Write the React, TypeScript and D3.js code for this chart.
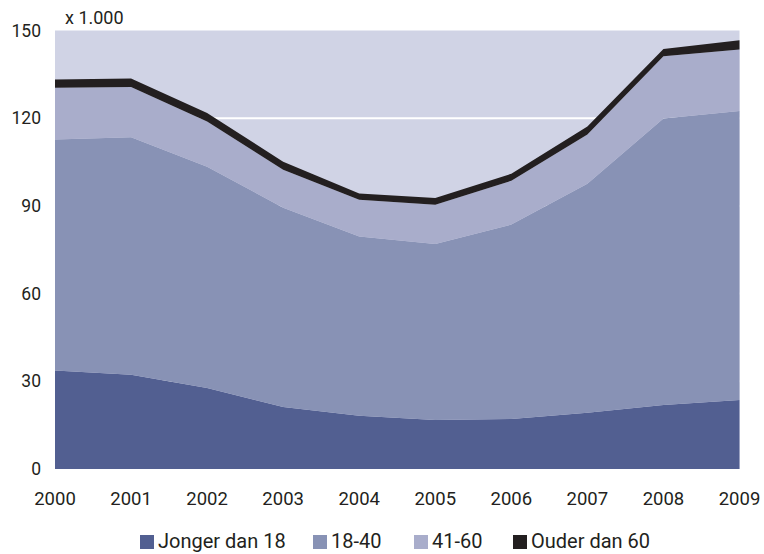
import React from "react";
import * as d3 from "d3";

const years = [2000, 2001, 2002, 2003, 2004, 2005, 2006, 2007, 2008, 2009];
const jonger = [33.7, 32.2, 27.7, 21.2, 18.2, 16.8, 17.1, 19.2, 21.9, 23.6];
const age1840 = [79.0, 81.3, 75.7, 68.2, 61.3, 60.2, 66.5, 78.4, 98.0, 98.9];
const age4160 = [17.7, 17.2, 15.5, 13.0, 12.6, 13.4, 15.0, 16.8, 21.3, 21.0];
const ouder = [2.8, 2.9, 2.9, 2.7, 2.1, 2.3, 2.4, 2.8, 2.5, 3.2];
const seriesNames = ["Jonger dan 18", "18-40", "41-60", "Ouder dan 60"];
const seriesColors = ["#525f91", "#8892b5", "#a9adcb", "#231f20"];
const yTicks = [0, 30, 60, 90, 120, 150];

const W = 764;
const H = 554;
const left = 55;
const right = 739.5;
const top = 30.5;
const bottom = 469;
const font = "Roboto, 'Noto Sans', sans-serif";

export default function App() {
  const x = d3.scaleLinear().domain([2000, 2009]).range([left, right]);
  const y = d3.scaleLinear().domain([0, 150]).range([bottom, top]);
  const rows = years.map((yr, i) => ({
    year: yr,
    s0: jonger[i],
    s1: age1840[i],
    s2: age4160[i],
    s3: ouder[i],
  }));
  const stack = d3.stack<any>().keys(["s0", "s1", "s2", "s3"]);
  const layers = stack(rows);
  const area = d3
    .area<any>()
    .x((d) => x(d.data.year))
    .y0((d) => y(d[0]))
    .y1((d) => y(d[1]));

  const legendX = [140, 313, 414, 513];

  return (
    <svg
      width={W}
      height={H}
      style={{ position: "absolute", left: 0, top: 0, background: "#fff" }}
    >
      <rect x={left} y={top} width={right - left} height={bottom - top} fill="#d0d3e5" />
      {yTicks
        .filter((t) => t > 0 && t < 150)
        .map((t) => (
          <line key={t} x1={left} x2={right} y1={y(t)} y2={y(t)} stroke="#fff" strokeWidth={2} />
        ))}
      {layers.map((l, i) => (
        <path key={i} d={area(l) || ""} fill={seriesColors[i]} />
      ))}
      {yTicks.map((t) => (
        <text
          key={t}
          x={41}
          y={y(t) + 6}
          textAnchor="end"
          fontFamily={font}
          fontSize={17.5}
          fill="#231f20"
        >
          {t}
        </text>
      ))}
      {years.map((yr) => (
        <text
          key={yr}
          x={x(yr)}
          y={505}
          textAnchor="middle"
          fontFamily={font}
          fontSize={18.5}
          fill="#231f20"
        >
          {yr}
        </text>
      ))}
      <text x={65} y={24} fontFamily={font} fontSize={18} fill="#231f20">
        x 1.000
      </text>
      {seriesNames.map((n, i) => (
        <g key={n}>
          <rect x={legendX[i]} y={535} width={14} height={14} fill={seriesColors[i]} />
          <text
            x={legendX[i] + 18}
            y={548}
            fontFamily={font}
            fontSize={20}
            fill="#231f20"
          >
            {n}
          </text>
        </g>
      ))}
    </svg>
  );
}
